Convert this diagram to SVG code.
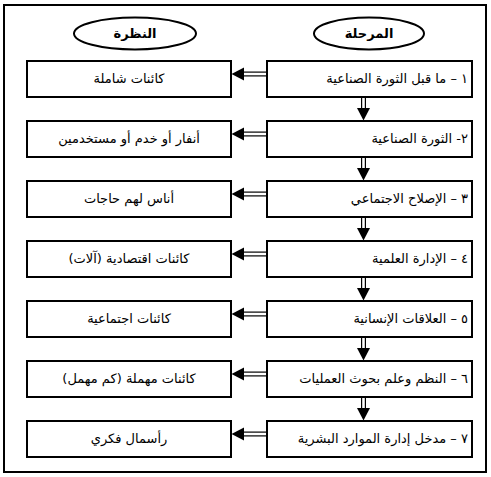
<svg xmlns="http://www.w3.org/2000/svg" width="491" height="477" viewBox="0 0 491 477">
<style>
.frame{fill:#fff;stroke:#000;stroke-width:2}
.box{fill:#fff;stroke:#000;stroke-width:2}
.ell{fill:#fff;stroke:#000;stroke-width:2}
.t{font-family:"DejaVu Sans","Liberation Sans",sans-serif;font-size:13px;fill:#000;direction:rtl}
.h{font-weight:bold}
.r{text-anchor:start}
.c{text-anchor:middle}
.out{fill:none;stroke:#000;stroke-width:5}
.in{fill:none;stroke:#fff;stroke-width:2.6}
.ah{fill:#000}
</style>
<rect class="frame" x="4" y="5" width="482" height="467"/>
<g id="head-nazra"><ellipse class="ell" cx="135" cy="33.5" rx="61" ry="16"/><text class="t c h" x="135" y="38">النظرة</text></g>
<g id="head-marhala"><ellipse class="ell" cx="369" cy="33.5" rx="55" ry="16"/><text class="t c h" x="369" y="38">المرحلة</text></g>
<g id="connectors">
<g id="h1"><path class="out" d="M267,74 H243"/><path class="in" d="M268,74 H242"/><polygon class="ah" points="231.5,74 244,67.5 244,80.5"/></g>
<g id="h2"><path class="out" d="M267,134 H243"/><path class="in" d="M268,134 H242"/><polygon class="ah" points="231.5,134 244,127.5 244,140.5"/></g>
<g id="h3"><path class="out" d="M267,194 H243"/><path class="in" d="M268,194 H242"/><polygon class="ah" points="231.5,194 244,187.5 244,200.5"/></g>
<g id="h4"><path class="out" d="M267,254 H243"/><path class="in" d="M268,254 H242"/><polygon class="ah" points="231.5,254 244,247.5 244,260.5"/></g>
<g id="h5"><path class="out" d="M267,314 H243"/><path class="in" d="M268,314 H242"/><polygon class="ah" points="231.5,314 244,307.5 244,320.5"/></g>
<g id="h6"><path class="out" d="M267,374 H243"/><path class="in" d="M268,374 H242"/><polygon class="ah" points="231.5,374 244,367.5 244,380.5"/></g>
<g id="h7"><path class="out" d="M267,434 H243"/><path class="in" d="M268,434 H242"/><polygon class="ah" points="231.5,434 244,427.5 244,440.5"/></g>
<g id="d1"><path class="out" d="M363.5,97 V109"/><path class="in" d="M363.5,96 V110"/><polygon class="ah" points="357,108 370,108 363.5,120.5"/></g>
<g id="d2"><path class="out" d="M363.5,157 V169"/><path class="in" d="M363.5,156 V170"/><polygon class="ah" points="357,168 370,168 363.5,180.5"/></g>
<g id="d3"><path class="out" d="M363.5,217 V229"/><path class="in" d="M363.5,216 V230"/><polygon class="ah" points="357,228 370,228 363.5,240.5"/></g>
<g id="d4"><path class="out" d="M363.5,277 V289"/><path class="in" d="M363.5,276 V290"/><polygon class="ah" points="357,288 370,288 363.5,300.5"/></g>
<g id="d5"><path class="out" d="M363.5,337 V349"/><path class="in" d="M363.5,336 V350"/><polygon class="ah" points="357,348 370,348 363.5,360.5"/></g>
<g id="d6"><path class="out" d="M363.5,397 V409"/><path class="in" d="M363.5,396 V410"/><polygon class="ah" points="357,408 370,408 363.5,420.5"/></g>
</g>
<g id="s1"><rect class="box" x="267" y="61" width="205" height="36"/><text class="t r" x="468" y="83">١ – ما قبل الثورة الصناعية</text></g>
<g id="v1"><rect class="box" x="27" y="61" width="204" height="36"/><text class="t c" x="129" y="83">كائنات شاملة</text></g>
<g id="s2"><rect class="box" x="267" y="121" width="205" height="36"/><text class="t r" x="468" y="143">٢- الثورة الصناعية</text></g>
<g id="v2"><rect class="box" x="27" y="121" width="204" height="36"/><text class="t c" x="129" y="143">أنفار أو خدم أو مستخدمين</text></g>
<g id="s3"><rect class="box" x="267" y="181" width="205" height="36"/><text class="t r" x="468" y="203">٣ – الإصلاح الاجتماعي</text></g>
<g id="v3"><rect class="box" x="27" y="181" width="204" height="36"/><text class="t c" x="129" y="203">أناس لهم حاجات</text></g>
<g id="s4"><rect class="box" x="267" y="241" width="205" height="36"/><text class="t r" x="468" y="263">٤ – الإدارة العلمية</text></g>
<g id="v4"><rect class="box" x="27" y="241" width="204" height="36"/><text class="t c" x="129" y="263">كائنات اقتصادية (آلات)</text></g>
<g id="s5"><rect class="box" x="267" y="301" width="205" height="36"/><text class="t r" x="468" y="323">٥ – العلاقات الإنسانية</text></g>
<g id="v5"><rect class="box" x="27" y="301" width="204" height="36"/><text class="t c" x="129" y="323">كائنات اجتماعية</text></g>
<g id="s6"><rect class="box" x="267" y="361" width="205" height="36"/><text class="t r" x="468" y="383">٦ – النظم وعلم بحوث العمليات</text></g>
<g id="v6"><rect class="box" x="27" y="361" width="204" height="36"/><text class="t c" x="129" y="383">كائنات مهملة (كم مهمل)</text></g>
<g id="s7"><rect class="box" x="267" y="421" width="205" height="36"/><text class="t r" x="468" y="443">٧ – مدخل إدارة الموارد البشرية</text></g>
<g id="v7"><rect class="box" x="27" y="421" width="204" height="36"/><text class="t c" x="129" y="443">رأسمال فكري</text></g>
</svg>
